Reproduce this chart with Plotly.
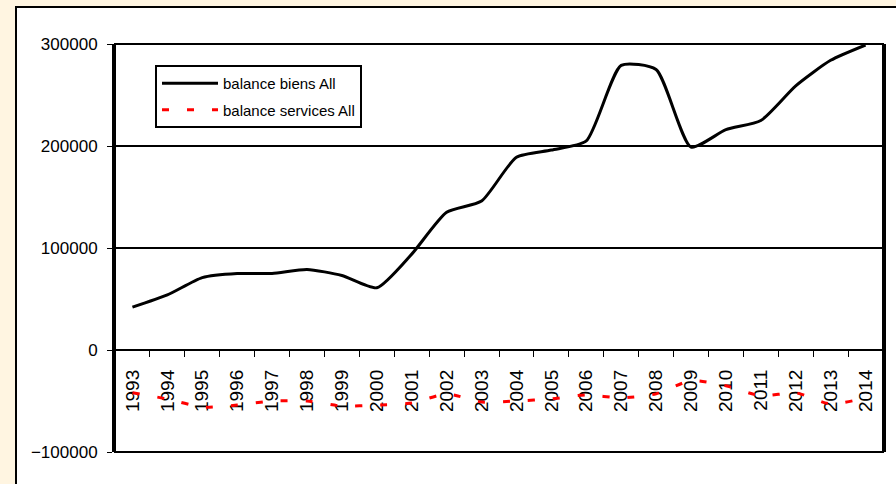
import plotly.graph_objects as go

years = [str(y) for y in range(1993, 2015)]

balance_biens = [42000, 54000, 71000, 75000, 75000, 79000, 73000, 61000, 94000, 135000, 146000,
                 189000, 196000, 205000, 279000, 275000, 199000, 216000, 225000, 259000, 284000, 299000]

balance_services = [-42000, -48000, -56000, -54000, -50000, -50000, -55000, -54000, -52000, -43000, -51000,
                    -50000, -48000, -44000, -47000, -43000, -30000, -35000, -45000, -42000, -53000, -47000]

y_ticks = [-100000, 0, 100000, 200000, 300000]

W, H = 896, 484
L, R, T, B = 115, 13, 44, 32
pw, ph = W - L - R, H - T - B


def px_x(x):
    return (x - L) / pw


def px_y(y):
    return (H - B - y) / ph


fig = go.Figure()

fig.add_trace(go.Scatter(
    x=years, y=balance_biens, name='balance biens All', mode='lines', legendgroup='a',
    line=dict(color='black', width=3, shape='spline', smoothing=0.6),
))
fig.add_trace(go.Scatter(
    x=years, y=balance_services, name='balance services All', mode='lines', legendgroup='b',
    line=dict(color='#ff0000', width=3, dash='7px,18px', shape='spline', smoothing=0.6),
))

font = 'Arial, Liberation Sans, sans-serif'

fig.update_layout(
    width=W,
    height=H,
    paper_bgcolor='#fff5e1',
    plot_bgcolor='white',
    font=dict(family=font, color='black'),
    margin=dict(l=L, r=R, t=T, b=B, pad=0),
    showlegend=True,
    legend=dict(
        x=px_x(155), y=px_y(65), xanchor='left', yanchor='top',
        bgcolor='white', bordercolor='black', borderwidth=2,
        font=dict(size=15, family=font),
        tracegroupgap=4,
        itemwidth=56,
    ),
    xaxis=dict(
        type='category',
        range=[-0.5, 21.5],
        automargin=False,
        anchor='free',
        position=0.25,
        layer='below traces',
        showgrid=False,
        showline=False,
        zeroline=False,
        ticks='outside',
        tickson='boundaries',
        ticklen=6,
        tickwidth=1,
        tickcolor='black',
        tickangle=-90,
        tickfont=dict(size=19, family=font),
        ticklabelstandoff=15,
    ),
    yaxis=dict(
        range=[-100000, 300000],
        automargin=False,
        tickvals=y_ticks,
        tickformat='d',
        showgrid=True,
        gridcolor='black',
        gridwidth=2,
        zeroline=False,
        showline=True,
        linecolor='black',
        linewidth=3,
        mirror=True,
        ticks='outside',
        ticklen=5,
        tickcolor='black',
        tickfont=dict(size=17, family=font),
        ticklabelstandoff=6,
    ),
)

# white panel behind the chart
fig.add_shape(type='rect', xref='paper', yref='paper', layer='below',
              x0=px_x(16), x1=px_x(905), y0=px_y(495), y1=px_y(7),
              fillcolor='white', line=dict(color='black', width=2))
# plot area border
fig.add_shape(type='rect', xref='paper', yref='paper',
              x0=0, x1=1, y0=0, y1=1, line=dict(color='black', width=2))

fig.write_html('out.html', config={'displayModeBar': False},
               post_script="document.body.style.margin='0';")
